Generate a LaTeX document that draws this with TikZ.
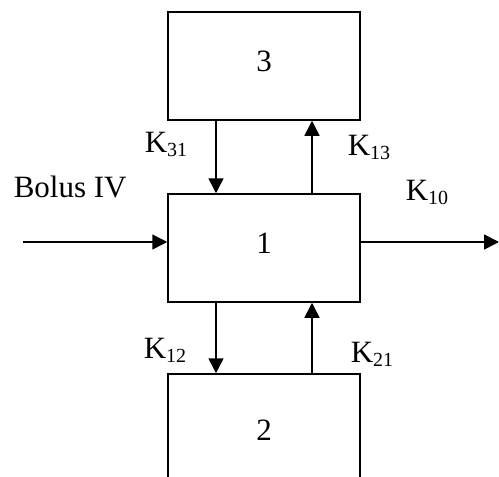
\documentclass[tikz,border=0pt]{standalone}
\usepackage{fontspec}
\setmainfont{Liberation Serif}
\usepackage{tikz}
\usetikzlibrary{arrows.meta,positioning}
\newcommand{\rate}[1]{K\raisebox{-4pt}{\fontsize{20}{20}\selectfont #1}}

\begin{document}
\begin{tikzpicture}[x=1pt, y=-1pt, font=\fontsize{31}{37}\selectfont, line width=1.5pt, box/.style={draw, minimum width=192pt, minimum height=108pt, inner sep=0pt, text depth=9pt}, lbl/.style={anchor=base west, inner sep=0pt}, arr/.style={-{Triangle[length=15pt, width=15pt]}}]
\useasboundingbox (0,0) rectangle (499,477);
\clip (0,0) rectangle (499,477);
\node[box] (c3) at (264,66) {3};
\node[box] (c1) at (264,248) {1};
\node[box, minimum height=122pt] (c2) at (264,435) {2};
\coordinate (in) at (23,242);
\coordinate (out) at (499,242);
\draw[arr] ([xshift=-48pt]c3.south) -- ([xshift=-48pt]c1.north);
\draw[arr] ([xshift=48pt]c1.north) -- ([xshift=48pt]c3.south);
\draw[arr] ([xshift=-48pt]c1.south) -- ([xshift=-48pt]c2.north);
\draw[arr] ([xshift=48pt]c2.north) -- ([xshift=48pt]c1.south);
\draw[arr] (in) -- (in -| c1.west);
\draw[arr] (out -| c1.east) -- (out);
\node[lbl] (bolus) at (13,197) {Bolus IV};
\node[lbl] (k31) at (144,152) {\rate{31}};
\node[lbl] (k13) at (347,155) {\rate{13}};
\node[lbl] (k10) at (405,200) {\rate{10}};
\node[lbl] (k12) at (143,358) {\rate{12}};
\node[lbl] (k21) at (350,362) {\rate{21}};
\end{tikzpicture}
\end{document}
